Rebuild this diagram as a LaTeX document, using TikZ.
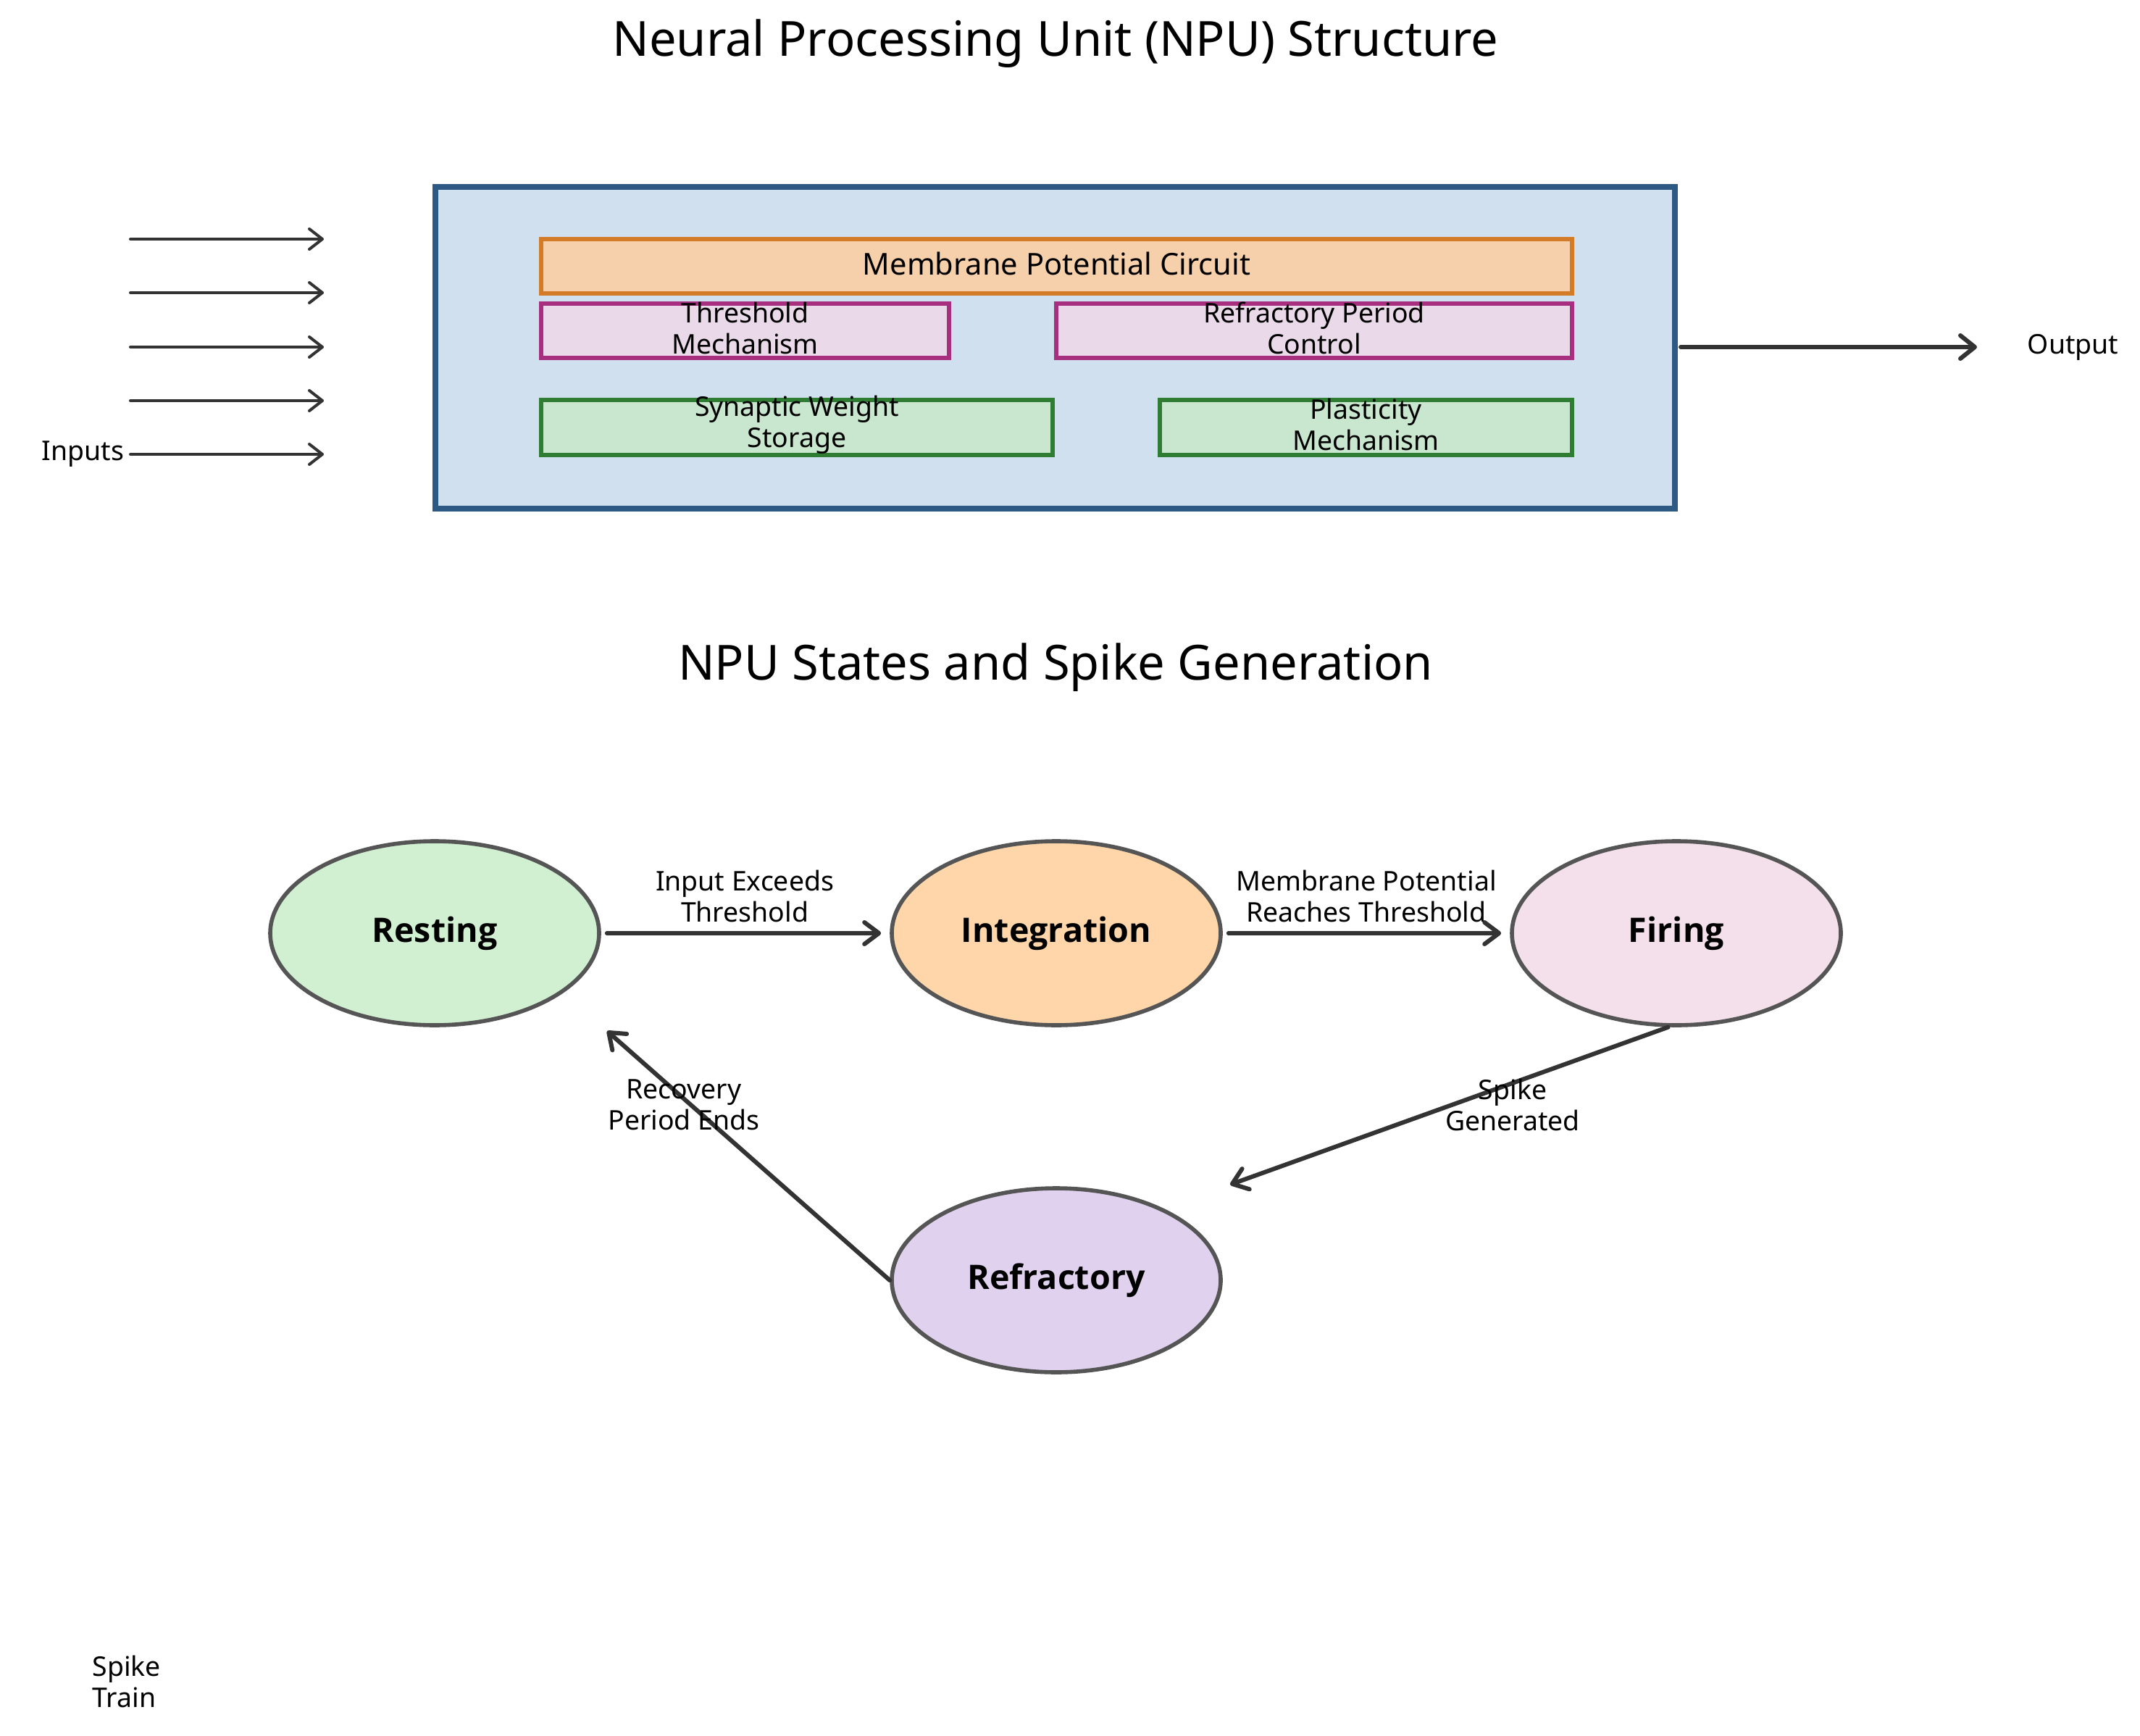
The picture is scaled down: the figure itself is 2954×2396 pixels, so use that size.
\documentclass[tikz,border=0pt]{standalone}
\usepackage{fontspec}
\setmainfont{Noto Sans}
\newfontfamily\statefont{Open Sans}
\usetikzlibrary{arrows.meta,shapes.geometric}
\definecolor{arrc}{HTML}{333333}
\definecolor{mainb}{HTML}{2C5A85}
\definecolor{mainf}{HTML}{D0E0EF}
\definecolor{orb}{HTML}{D47B27}
\definecolor{orf}{HTML}{F6D0AB}
\definecolor{pub}{HTML}{A82E7F}
\definecolor{puf}{HTML}{EAD9E8}
\definecolor{grb}{HTML}{2E7D32}
\definecolor{grf}{HTML}{C9E7CF}
\definecolor{elb}{HTML}{555555}
\definecolor{restf}{HTML}{D1EFD1}
\definecolor{intf}{HTML}{FED6AA}
\definecolor{firf}{HTML}{F3E0EA}
\definecolor{reff}{HTML}{E0D2EE}
\tikzset{
  txt/.style={font=\fontsize{9.35pt}{10.75pt}\selectfont, align=center, inner sep=0pt},
  ttl/.style={font=\fontsize{16.7pt}{20pt}\selectfont, inner sep=0pt},
  comp/.style={draw, line width=1.5pt, rectangle, inner sep=0pt, minimum height=18.75pt},
  ctext/.style={txt, yshift=1pt},
  state/.style={draw=elb, line width=1.4pt, ellipse, inner sep=0pt, minimum width=113.5pt, minimum height=63.5pt, font=\statefont\fontsize{11.65pt}{13pt}\selectfont\bfseries},
  inarr/.style={draw=arrc, line width=1pt, line cap=round, -{Straight Barb[length=4.5pt,width=7pt,round]}},
  outarr/.style={draw=arrc, line width=1.5pt, line cap=round, -{Straight Barb[length=5pt,width=8pt,round]}},
  starr/.style={draw=arrc, line width=1.5pt, line cap=round, -{Straight Barb[length=5pt,width=7.5pt,round]}}
}
\begin{document}
\begin{tikzpicture}[x=0.25pt,y=-0.25pt]
\useasboundingbox[fill=white] (0,0) rectangle (2954,2396);
% titles
\node[ttl] (t1) at (1457,60) {Neural Processing Unit (NPU) Structure};
\node[ttl] (t2) at (1457,921) {NPU States and Spike Generation};
% main box
\node[draw=mainb, fill=mainf, line width=2pt, rectangle, inner sep=0pt, minimum width=427.75pt, minimum height=111pt] (npu) at (1456.5,480) {};
\node[comp, draw=orb, fill=orf, minimum width=355.75pt, label={[ctext, font=\fontsize{10.4pt}{12pt}\selectfont]center:Membrane Potential Circuit}] (mpc) at (1458.5,367.5) {};
\node[comp, draw=pub, fill=puf, minimum width=140.75pt, label={[ctext]center:Threshold\\Mechanism}] (thr) at (1028.5,456.5) {};
\node[comp, draw=pub, fill=puf, minimum width=178pt, label={[ctext]center:Refractory Period\\Control}] (rpc) at (1814,456.5) {};
\node[comp, draw=grb, fill=grf, minimum width=176.5pt, minimum height=19pt, label={[ctext]center:Synaptic Weight\\Storage}] (sws) at (1100,590) {};
\node[comp, draw=grb, fill=grf, minimum width=142.25pt, minimum height=19pt, label={[ctext]center:Plasticity\\Mechanism}] (plm) at (1885.5,590) {};
% inputs
\foreach \i/\y in {1/330,2/404,3/479,4/553,5/627}{
  \coordinate (ia\i) at (180,\y);
  \coordinate (ib\i) at (447,\y);
  \draw[inarr] (ia\i) -- (ib\i);
}
\node[txt, anchor=east] (inl) at (172,627) {Inputs};
% output
\coordinate (oa) at (2320,479);
\coordinate (ob) at (2729,479);
\draw[outarr] (oa) -- (ob);
\node[txt, anchor=west] (outl) at (2798,479) {Output};
% states
\node[state, fill=restf] (rest) at (600,1288) {Resting};
\node[state, fill=intf] (integ) at (1458,1288) {Integration};
\node[state, fill=firf] (fire) at (2314,1288) {Firing};
\node[state, fill=reff] (refr) at (1458,1767) {Refractory};
\coordinate (fe) at (1698,1635);
\coordinate (re) at (838,1423);
\draw[starr, shorten <=2pt, shorten >=3pt] (rest) -- (integ);
\draw[starr, shorten <=2pt, shorten >=3pt] (integ) -- (fire);
\draw[starr] (fire.265) -- (fe);
\draw[starr] (refr.west) -- (re);
\node[txt] (l1) at (1028,1237) {Input Exceeds\\Threshold};
\node[txt] (l2) at (1886,1237) {Membrane Potential\\Reaches Threshold};
\node[txt] (l3) at (2088,1525) {Spike\\Generated};
\node[txt] (l4) at (944,1525) {Recovery\\Period Ends};
\node[txt, align=left, anchor=west] (spk) at (127,2321) {Spike\\Train};
\end{tikzpicture}
\end{document}
